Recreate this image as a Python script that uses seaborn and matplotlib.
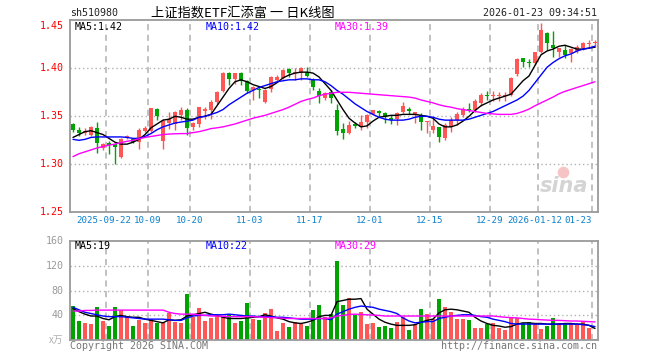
import numpy as np
import pandas as pd
import matplotlib
matplotlib.use("Agg")
import matplotlib.pyplot as plt
import seaborn as sns

# dati (88 sedute, 2025-09-12 .. 2026-01-23)
tick_labels = ["2025-09-22", "10-09", "10-20", "11-03", "11-17",
               "12-01", "12-15", "12-29", "2026-01-12", "01-23"]
tick_pos = [6, 13, 20, 30, 40, 50, 60, 70, 78, 87]

apertura = [1.342, 1.336, 1.333, 1.331, 1.338, 1.317, 1.322, 1.321, 1.308, 1.327,
            1.326, 1.323, 1.335, 1.335, 1.3575, 1.3245, 1.3435, 1.342, 1.351, 1.3565,
            1.339, 1.342, 1.356, 1.3565, 1.365, 1.3765, 1.3955, 1.3885, 1.3955, 1.387,
            1.3775, 1.3778, 1.3653, 1.378, 1.388, 1.3896, 1.399, 1.395, 1.3948, 1.3965,
            1.388, 1.3768, 1.3695, 1.3757, 1.3566, 1.337, 1.3325, 1.342, 1.339, 1.3445,
            1.3525, 1.356, 1.353, 1.348, 1.347, 1.355, 1.358, 1.3528, 1.3514, 1.344,
            1.3358, 1.3386, 1.3271, 1.3386, 1.3462, 1.3514, 1.3575, 1.3566, 1.3643, 1.3725,
            1.371, 1.3712, 1.371, 1.3722, 1.3941, 1.4104, 1.406, 1.406, 1.4173, 1.437,
            1.4243, 1.4173, 1.419, 1.4156, 1.4184, 1.4208, 1.4257, 1.426]
massimo = [1.3434, 1.339, 1.338, 1.340, 1.3445, 1.322, 1.3245, 1.322, 1.327, 1.331,
           1.327, 1.338, 1.340, 1.359, 1.3585, 1.3475, 1.355, 1.356, 1.360, 1.3585,
           1.344, 1.360, 1.3595, 1.3665, 1.3765, 1.3965, 1.3965, 1.3955, 1.396, 1.3875,
           1.3816, 1.3816, 1.378, 1.392, 1.3925, 1.399, 1.400, 1.400, 1.4017, 1.4017,
           1.3896, 1.379, 1.3757, 1.3774, 1.363, 1.343, 1.3452, 1.3445, 1.351, 1.3525,
           1.357, 1.3566, 1.355, 1.3514, 1.355, 1.3645, 1.3598, 1.3545, 1.353, 1.3448,
           1.348, 1.3393, 1.3427, 1.349, 1.355, 1.360, 1.3643, 1.3677, 1.374, 1.3767,
           1.376, 1.3757, 1.3757, 1.3906, 1.4104, 1.4104, 1.4094, 1.4173, 1.447, 1.438,
           1.439, 1.4208, 1.4243, 1.4208, 1.4243, 1.4278, 1.430, 1.430]
minimo = [1.334, 1.3295, 1.330, 1.329, 1.312, 1.315, 1.311, 1.300, 1.307, 1.326,
          1.322, 1.316, 1.334, 1.334, 1.3465, 1.316, 1.337, 1.336, 1.3465, 1.330,
          1.336, 1.339, 1.347, 1.347, 1.363, 1.3755, 1.3825, 1.384, 1.3825, 1.374,
          1.367, 1.369, 1.364, 1.3757, 1.386, 1.3885, 1.391, 1.388, 1.388, 1.3913,
          1.3775, 1.3636, 1.367, 1.3636, 1.3306, 1.326, 1.3316, 1.3375, 1.336, 1.338,
          1.351, 1.349, 1.3435, 1.342, 1.341, 1.353, 1.352, 1.3428, 1.336, 1.3323,
          1.3323, 1.3237, 1.3254, 1.334, 1.341, 1.3497, 1.3549, 1.3549, 1.3608, 1.367,
          1.3664, 1.366, 1.3655, 1.3712, 1.392, 1.4017, 1.4017, 1.4035, 1.4156, 1.419,
          1.412, 1.412, 1.4104, 1.407, 1.4156, 1.419, 1.422, 1.4225]
chiusura = [1.336, 1.333, 1.335, 1.3385, 1.3226, 1.321, 1.320, 1.318, 1.3265, 1.329,
            1.3235, 1.336, 1.338, 1.3585, 1.3505, 1.345, 1.347, 1.3545, 1.3565, 1.3375,
            1.3425, 1.3595, 1.358, 1.365, 1.375, 1.3955, 1.3885, 1.3955, 1.387, 1.3768,
            1.381, 1.3772, 1.3775, 1.3913, 1.3913, 1.3983, 1.3948, 1.3955, 1.400, 1.3924,
            1.381, 1.3712, 1.3747, 1.3688, 1.3351, 1.3323, 1.341, 1.340, 1.3445, 1.3514,
            1.3566, 1.3533, 1.3495, 1.346, 1.3534, 1.361, 1.3558, 1.354, 1.3445, 1.3445,
            1.340, 1.3282, 1.341, 1.3462, 1.3525, 1.3573, 1.3565, 1.3663, 1.372, 1.3715,
            1.372, 1.372, 1.3718, 1.3896, 1.4094, 1.407, 1.405, 1.4173, 1.440, 1.426,
            1.4208, 1.4208, 1.4139, 1.4198, 1.4225, 1.4267, 1.426, 1.4267]

ma5 = [1.328, 1.331, 1.334, 1.335, 1.333, 1.331, 1.327, 1.323, 1.321, 1.321,
       1.323, 1.326, 1.331, 1.338, 1.342, 1.346, 1.347, 1.350, 1.349, 1.347,
       1.347, 1.349, 1.350, 1.352, 1.361, 1.370, 1.379, 1.386, 1.388, 1.386,
       1.383, 1.381, 1.379, 1.381, 1.385, 1.390, 1.393, 1.395, 1.396, 1.396,
       1.395, 1.391, 1.384, 1.377, 1.367, 1.357, 1.348, 1.343, 1.339, 1.340,
       1.345, 1.349, 1.350, 1.351, 1.351, 1.352, 1.352, 1.352, 1.351, 1.350,
       1.348, 1.342, 1.339, 1.339, 1.341, 1.345, 1.350, 1.356, 1.361, 1.364,
       1.367, 1.369, 1.371, 1.373, 1.380, 1.387, 1.392, 1.403, 1.414, 1.418,
       1.420, 1.423, 1.424, 1.422, 1.420, 1.420, 1.421, 1.422]
ma10 = [1.326, 1.325, 1.326, 1.328, 1.3285, 1.3285, 1.3285, 1.3285, 1.3285, 1.328,
        1.327, 1.327, 1.329, 1.332, 1.336, 1.339, 1.341, 1.343, 1.344, 1.345,
        1.346, 1.349, 1.350, 1.352, 1.354, 1.357, 1.362, 1.366, 1.370, 1.374,
        1.377, 1.380, 1.382, 1.384, 1.386, 1.387, 1.388, 1.388, 1.389, 1.389,
        1.388, 1.388, 1.386, 1.382, 1.377, 1.373, 1.368, 1.363, 1.359, 1.355,
        1.352, 1.349, 1.347, 1.346, 1.346, 1.346, 1.347, 1.349, 1.350, 1.350,
        1.349, 1.347, 1.346, 1.346, 1.346, 1.346, 1.347, 1.349, 1.351, 1.353,
        1.355, 1.358, 1.361, 1.364, 1.367, 1.371, 1.377, 1.385, 1.393, 1.401,
        1.406, 1.410, 1.413, 1.415, 1.418, 1.420, 1.421, 1.423]
ma30 = [1.308, 1.311, 1.313, 1.315, 1.317, 1.3185, 1.320, 1.321, 1.3225, 1.324,
        1.325, 1.3265, 1.328, 1.329, 1.330, 1.331, 1.3315, 1.3318, 1.332, 1.332,
        1.333, 1.334, 1.3355, 1.3372, 1.338, 1.339, 1.3405, 1.342, 1.344, 1.346,
        1.348, 1.3495, 1.351, 1.353, 1.355, 1.357, 1.3595, 1.3625, 1.3655, 1.3675,
        1.369, 1.3715, 1.373, 1.374, 1.375, 1.375, 1.375, 1.3745, 1.374, 1.3735,
        1.373, 1.3725, 1.372, 1.3715, 1.371, 1.3705, 1.370, 1.369, 1.367, 1.3655,
        1.364, 1.362, 1.3605, 1.3595, 1.358, 1.357, 1.356, 1.355, 1.354, 1.353,
        1.3525, 1.352, 1.352, 1.352, 1.353, 1.355, 1.3575, 1.361, 1.364, 1.367,
        1.370, 1.3735, 1.376, 1.378, 1.380, 1.382, 1.384, 1.386]

# volume (x万) e relative medie
volume = [55, 31, 28, 26, 53, 31, 23, 53, 49, 37,
          23, 33, 28, 34, 28, 28, 44, 29, 28, 74,
          37, 52, 31, 36, 39, 39, 42, 28, 31, 60,
          34, 33, 44, 50, 15, 28, 21, 29, 26, 23,
          49, 57, 37, 42, 127, 57, 68, 41, 45, 26,
          28, 21, 23, 20, 29, 37, 17, 26, 50, 42,
          34, 66, 53, 45, 34, 34, 33, 20, 20, 26,
          28, 20, 17, 37, 36, 28, 29, 26, 18, 23,
          36, 28, 28, 28, 25, 29, 20, 2]
vol_ma5 = [51, 46, 42, 39, 39, 35, 33, 38, 40, 38,
           37, 37, 34, 32, 30, 28, 33, 32, 33, 39,
           41, 43, 45, 42, 40, 37, 35, 35, 35, 36,
           37, 38, 41, 39, 36, 34, 30, 28, 27, 29,
           32, 38, 40, 40, 62, 64, 66, 66, 67, 50,
           42, 34, 29, 26, 24, 24, 24, 25, 29, 32,
           34, 44, 49, 50, 49, 47, 45, 37, 31, 27,
           24, 23, 21, 22, 26, 28, 28, 27, 27, 26,
           26, 26, 27, 27, 26, 26, 24, 19]
vol_ma10 = [53, 49, 45, 43, 41, 39, 38, 38, 38, 37,
            36, 35, 34, 34, 34, 34, 33, 32, 32, 36,
            39, 40, 40, 41, 41, 41, 42, 41, 40, 39,
            39, 38, 38, 38, 37, 37, 36, 35, 34, 34,
            34, 35, 35, 33, 42, 46, 50, 53, 55, 54,
            53, 50, 48, 46, 43, 36, 31, 28, 29, 30,
            30, 35, 37, 39, 40, 41, 41, 40, 38, 37,
            34, 32, 30, 27, 26, 26, 26, 26, 26, 26,
            26, 26, 26, 26, 26, 25, 24, 22]
vol_ma30 = [47, 47, 48, 48, 48.5, 48.5, 48.5, 48.5, 48.5, 48.5,
            48.5, 48.5, 48.5, 48.5, 48.5, 48.5, 45, 43, 42, 42,
            42, 41, 40, 39, 39, 38.5, 38, 38, 38, 38,
            38, 37.5, 37, 36.5, 36, 35.5, 35, 35, 35, 35,
            35, 35, 35, 36, 39, 40, 41.5, 42, 41.5, 41,
            40.5, 40, 39, 39, 39, 39, 39, 39, 39, 39,
            39, 39, 39, 39, 39, 39, 39, 39, 39, 39,
            39, 38, 37, 36.5, 36, 35, 34, 33.6, 33, 32.5,
            32, 32, 31.5, 31, 31, 30.5, 30, 29.5]

df = pd.DataFrame({"o": apertura, "h": massimo, "l": minimo, "c": chiusura,
                   "vol": volume, "ma5": ma5, "ma10": ma10, "ma30": ma30,
                   "vma5": vol_ma5, "vma10": vol_ma10, "vma30": vol_ma30})
df["i"] = np.arange(len(df))
ROSSO, VERDE = "#ff5656", "#00a300"
df["col"] = np.where(df["c"] >= df["o"], ROSSO, VERDE)

sns.set_style("white")
plt.rcParams["font.family"] = ["DejaVu Sans Mono"]
MONO = 7.2
GRIGIO = "#9a9a9a"

W, H = 660, 360
fig = plt.figure(figsize=(6.6, 3.6), dpi=100)
ax = fig.add_axes([70 / W, 1 - 212.3 / H, 528 / W, 192 / H])
axv = fig.add_axes([70 / W, 1 - 340.3 / H, 528 / W, 99.6 / H])

for a in (ax, axv):
    a.set_xlim(-0.5, len(df) - 0.5)
    for s in a.spines.values():
        s.set_color(GRIGIO)
        s.set_linewidth(1.3)
    for t in tick_pos:
        a.axvline(t - 0.5, color="#b0b0b0", lw=1.1, ls=(0, (4, 3)), zorder=0)
    a.set_xticks([])
    a.set_yticks([])

# candele
ax.vlines(df["i"], df["l"], df["h"], colors=df["col"], lw=1, zorder=2)
corpo = np.maximum((df["c"] - df["o"]).abs(), 0.0011)
ax.bar(df["i"], corpo, bottom=np.minimum(df["o"], df["c"]), width=0.82,
       color=df["col"], lw=0, zorder=3)
sns.lineplot(data=df, x="i", y="ma5", ax=ax, color="black", lw=1, zorder=4)
sns.lineplot(data=df, x="i", y="ma10", ax=ax, color="#0000ff", lw=1, zorder=4)
sns.lineplot(data=df, x="i", y="ma30", ax=ax, color="#ff00ff", lw=1, zorder=4)
ax.set_ylim(1.25, 1.45)
for yv in [1.30, 1.35, 1.40]:
    ax.axhline(yv, color="#b0b0b0", lw=1, ls=(0, (1, 2)), zorder=0)
for yv in [1.25, 1.30, 1.35, 1.40]:
    ax.text(-0.012, yv, f"{yv:.2f}", transform=ax.get_yaxis_transform(),
            ha="right", va="center", color="red", fontsize=MONO)
ax.text(-0.012, 1.4495, "1.45", transform=ax.get_yaxis_transform(),
        ha="right", va="top", color="red", fontsize=MONO)

# etichette delle date (px della figura, come nell'originale si toccano)
lab_x = {"2025-09-22": 104, "2026-01-12": 535}
for t, lab in zip(tick_pos, tick_labels):
    xp = lab_x.get(lab, 70 + 6 * t)
    fig.text(xp / W, 1 - 220 / H, lab, ha="right" if lab == "01-23" else "center",
             va="center", color="#0a80cc", fontsize=6.6)
ax.set_xlabel("")
ax.set_ylabel("")
ax.text(0.0095, 0.963, "MA5:1.42", transform=ax.transAxes, color="black", fontsize=MONO, va="center")
ax.text(0.256, 0.963, "MA10:1.42", transform=ax.transAxes, color="#0000ff", fontsize=MONO, va="center")
ax.text(0.502, 0.963, "MA30:1.39", transform=ax.transAxes, color="#ff00ff", fontsize=MONO, va="center")
# logo sina in filigrana
ax.text(81.8, 1.277, "sina", color="#d4d4d4", fontsize=15, fontstyle="italic",
        fontweight="bold", family="DejaVu Sans", ha="center", va="center", zorder=1)
ax.scatter([81.6], [1.2925], s=70, color="#f6c4c4", lw=0, zorder=1)

# volume
axv.bar(df["i"], df["vol"], width=0.82, color=df["col"], lw=0, zorder=2)
sns.lineplot(data=df, x="i", y="vma5", ax=axv, color="black", lw=1, zorder=4)
sns.lineplot(data=df, x="i", y="vma10", ax=axv, color="#0000ff", lw=1, zorder=4)
sns.lineplot(data=df, x="i", y="vma30", ax=axv, color="#ff00ff", lw=1, zorder=4)
axv.set_ylim(0, 160)
for yv in [40, 80, 120]:
    axv.axhline(yv, color="#b0b0b0", lw=1, ls=(0, (1, 2)), zorder=0)
for yv in [40, 80, 120, 160]:
    axv.text(-0.012, yv, str(yv), transform=axv.get_yaxis_transform(),
             ha="right", va="center", color=GRIGIO, fontsize=MONO)
axv.text(-0.012, 0, "x万", transform=axv.get_yaxis_transform(), ha="right",
         va="center", color="#b0b0b0", fontsize=7,
         family=["Noto Sans CJK SC", "DejaVu Sans"])
axv.set_xlabel("")
axv.set_ylabel("")
axv.text(0.0095, 0.95, "MA5:19", transform=axv.transAxes, color="black", fontsize=MONO, va="center")
axv.text(0.256, 0.95, "MA10:22", transform=axv.transAxes, color="#0000ff", fontsize=MONO, va="center")
axv.text(0.502, 0.95, "MA30:29", transform=axv.transAxes, color="#ff00ff", fontsize=MONO, va="center")

# titolo e scritte
fig.text(70 / W, 1 - 13 / H, "sh510980", fontsize=MONO, va="center", color="#222222")
fig.text(151 / W, 1 - 13 / H, "上证指数ETF汇添富 一 日K线图", fontsize=9.5, va="center",
         color="black", family=["Noto Sans CJK SC", "DejaVu Sans"])
fig.text(597 / W, 1 - 13 / H, "2026-01-23 09:34:51", fontsize=MONO, va="center",
         ha="right", color="#222222")
fig.text(70 / W, 1 - 346 / H, "Copyright 2026 SINA.COM", fontsize=MONO, va="center", color="#777777")
fig.text(597 / W, 1 - 346 / H, "http://finance.sina.com.cn", fontsize=MONO, va="center",
         ha="right", color="#777777")

fig.savefig("out.png", dpi=100)
